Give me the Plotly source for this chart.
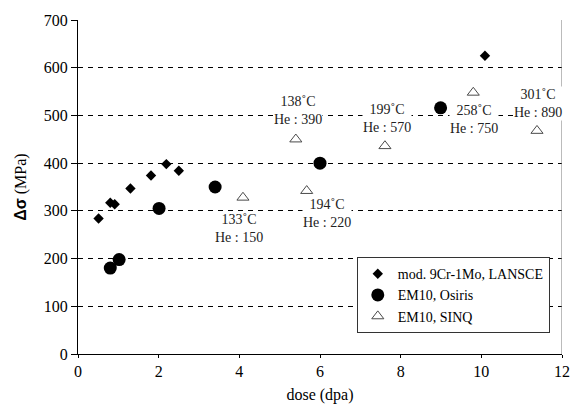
import plotly.graph_objects as go

# LANSCE (mod. 9Cr-1Mo)
lansce_dose = [0.51, 0.80, 0.91, 1.30, 1.81, 2.19, 2.50, 10.09]
lansce_ds = [284, 317, 314, 347, 374, 398, 384, 625]

# EM10, Osiris
osiris_dose = [0.80, 1.02, 2.01, 3.40, 6.00, 8.99]
osiris_ds = [180, 198, 305, 350, 400, 516]

# EM10, SINQ
sinq_dose = [4.09, 5.40, 5.67, 7.61, 9.80, 11.38]
sinq_ds = [328, 450, 342, 436, 548, 468]

# labels for SINQ points
lab_text = ["133˚C<br>He : 150", "138˚C<br>He : 390", "194˚C<br>He : 220",
            "199˚C<br>He : 570", "258˚C<br>He : 750", "301˚C<br>He : 890"]
lab_x = [3.98, 5.45, 6.17, 7.65, 9.81, 11.40]
lab_y = [264, 510, 294, 494, 492, 526]

serif = "Liberation Serif"

fig = go.Figure()
fig.add_trace(go.Scatter(x=lansce_dose, y=lansce_ds, mode="markers",
                         name="mod. 9Cr-1Mo, LANSCE",
                         marker=dict(symbol="diamond", size=8, color="black")))
fig.add_trace(go.Scatter(x=osiris_dose, y=osiris_ds, mode="markers",
                         name="EM10, Osiris",
                         marker=dict(symbol="circle", size=13, color="black")))
fig.add_trace(go.Scatter(x=sinq_dose, y=sinq_ds, mode="markers",
                         name="EM10, SINQ",
                         marker=dict(symbol="triangle-up-open", size=10.5, color="#4a4a4a",
                                     line=dict(width=1, color="#4a4a4a"))))

for t, x, y in zip(lab_text, lab_x, lab_y):
    fig.add_annotation(x=x, y=y, text=t, showarrow=False, bgcolor="white",
                       borderpad=0, font=dict(family=serif, size=14, color="#222"))

# right border of the plot area
fig.add_shape(type="line", xref="x", yref="y", x0=12, x1=12, y0=0, y1=700,
              line=dict(color="#777", width=1))

fig.update_xaxes(range=[0, 12], dtick=2, showgrid=False, showline=True,
                 linecolor="black", linewidth=1, ticks="outside", ticklen=3,
                 tickcolor="black", zeroline=False, automargin=False,
                 tickfont=dict(family=serif, size=16, color="black"),
                 title=dict(text="dose (dpa)", standoff=9,
                            font=dict(family=serif, size=16, color="black")))
fig.update_yaxes(range=[0, 700], dtick=100, showgrid=True, gridcolor="black",
                 griddash="5px,5px", gridwidth=1, showline=True, linecolor="black",
                 linewidth=1, ticks="outside", ticklen=6, tickcolor="black",
                 zeroline=False, automargin=False,
                 tickfont=dict(family=serif, size=16, color="black"),
                 title=dict(text='<span style="font-family:Liberation Sans;font-weight:bold">Δσ</span> (MPa)',
                            standoff=13,
                            font=dict(family=serif, size=16, color="black")))

fig.update_layout(
    width=580, height=404,
    margin=dict(l=78, r=18, t=20, b=50),
    plot_bgcolor="white", paper_bgcolor="white",
    font=dict(family=serif, color="black"),
    legend=dict(x=0.576, y=0.29, xanchor="left", yanchor="top",
                bgcolor="white", bordercolor="#333", borderwidth=1,
                font=dict(family=serif, size=14, color="black"),
                itemwidth=30, tracegroupgap=0),
)

fig.write_html("out.html", config={"displayModeBar": False},
               post_script="document.body.style.margin='0px';")
